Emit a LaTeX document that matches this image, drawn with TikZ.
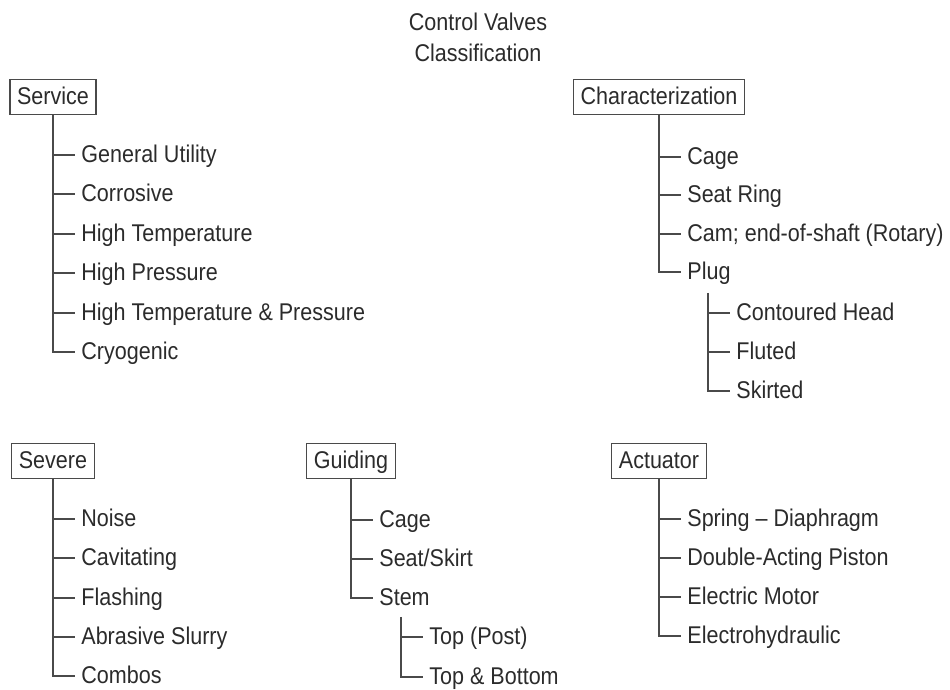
\documentclass[tikz,border=0pt]{standalone}
\usepackage{fontspec}
\setmainfont{Liberation Sans}[FakeStretch=0.89]
\usepackage{xcolor}

\definecolor{inkgray}{HTML}{2B2B2B}
\definecolor{linegray}{HTML}{4A4A4A}

\tikzset{
  catbox/.style={draw=linegray, line width=0.6pt, inner xsep=3.5pt, inner ysep=5.1pt,
    text height=0.72em, text depth=0pt},
  item/.style={anchor=west, inner xsep=3pt, text height=0.72em, text depth=0pt},
  tree/.style={draw=linegray, line width=0.6pt},
}

\begin{document}
\begin{tikzpicture}[x=0.5pt, y=-0.5pt, font=\fontsize{12.1pt}{15.5pt}\selectfont, text=inkgray]
  \useasboundingbox (0,0) rectangle (950,690);

  % title
  \node[align=center] (title) at (478,37.5) {Control Valves\\Classification};

  % category boxes
  \node[catbox] (svc) at (53,97) {Service};
  \node[catbox] (chr) at (659,97) {Characterization};
  \node[catbox] (sev) at (53,461) {Severe};
  \node[catbox] (gde) at (351,461) {Guiding};
  \node[catbox] (act) at (659,461) {Actuator};

  % service
  \node[item] (svc1) at (75,155) {General Utility};
  \node[item] (svc2) at (75,194) {Corrosive};
  \node[item] (svc3) at (75,234) {High Temperature};
  \node[item] (svc4) at (75,273) {High Pressure};
  \node[item] (svc5) at (75,313) {High Temperature \& Pressure};
  \node[item] (svc6) at (75,352) {Cryogenic};
  \draw[tree] (svc.south) |- (svc6.west);
  \draw[tree] (svc.south |- svc1.west) -- (svc1.west);
  \draw[tree] (svc.south |- svc2.west) -- (svc2.west);
  \draw[tree] (svc.south |- svc3.west) -- (svc3.west);
  \draw[tree] (svc.south |- svc4.west) -- (svc4.west);
  \draw[tree] (svc.south |- svc5.west) -- (svc5.west);

  % characterization
  \node[item] (chr1) at (681,157) {Cage};
  \node[item] (chr2) at (681,195) {Seat Ring};
  \node[item] (chr3) at (681,234) {Cam; end-of-shaft (Rotary)};
  \node[item] (chr4) at (681,272) {Plug};
  \draw[tree] (chr.south) |- (chr4.west);
  \draw[tree] (chr.south |- chr1.west) -- (chr1.west);
  \draw[tree] (chr.south |- chr2.west) -- (chr2.west);
  \draw[tree] (chr.south |- chr3.west) -- (chr3.west);

  % plug types
  \coordinate (plugtop) at (708,293);
  \node[item] (plg1) at (730,313) {Contoured Head};
  \node[item] (plg2) at (730,352) {Fluted};
  \node[item] (plg3) at (730,391) {Skirted};
  \draw[tree] (plugtop) |- (plg3.west);
  \draw[tree] (plugtop |- plg1.west) -- (plg1.west);
  \draw[tree] (plugtop |- plg2.west) -- (plg2.west);

  % severe
  \node[item] (sev1) at (75,519) {Noise};
  \node[item] (sev2) at (75,558) {Cavitating};
  \node[item] (sev3) at (75,598) {Flashing};
  \node[item] (sev4) at (75,637) {Abrasive Slurry};
  \node[item] (sev5) at (75,676) {Combos};
  \draw[tree] (sev.south) |- (sev5.west);
  \draw[tree] (sev.south |- sev1.west) -- (sev1.west);
  \draw[tree] (sev.south |- sev2.west) -- (sev2.west);
  \draw[tree] (sev.south |- sev3.west) -- (sev3.west);
  \draw[tree] (sev.south |- sev4.west) -- (sev4.west);

  % guiding
  \node[item] (gde1) at (373,520) {Cage};
  \node[item] (gde2) at (373,559) {Seat/Skirt};
  \node[item] (gde3) at (373,598) {Stem};
  \draw[tree] (gde.south) |- (gde3.west);
  \draw[tree] (gde.south |- gde1.west) -- (gde1.west);
  \draw[tree] (gde.south |- gde2.west) -- (gde2.west);

  % stem types
  \coordinate (stemtop) at (401,617);
  \node[item] (stm1) at (423,637) {Top (Post)};
  \node[item] (stm2) at (423,677) {Top \& Bottom};
  \draw[tree] (stemtop) |- (stm2.west);
  \draw[tree] (stemtop |- stm1.west) -- (stm1.west);

  % actuator
  \node[item] (act1) at (681,519) {Spring -- Diaphragm};
  \node[item] (act2) at (681,558) {Double-Acting Piston};
  \node[item] (act3) at (681,597) {Electric Motor};
  \node[item] (act4) at (681,636) {Electrohydraulic};
  \draw[tree] (act.south) |- (act4.west);
  \draw[tree] (act.south |- act1.west) -- (act1.west);
  \draw[tree] (act.south |- act2.west) -- (act2.west);
  \draw[tree] (act.south |- act3.west) -- (act3.west);
\end{tikzpicture}
\end{document}
